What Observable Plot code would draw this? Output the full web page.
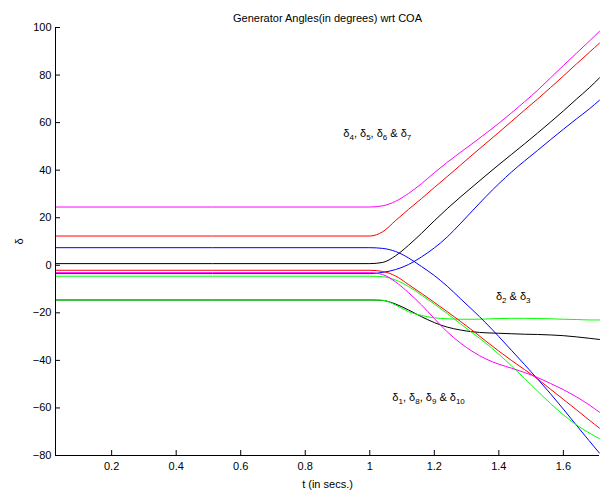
<!DOCTYPE html>
<html>
<head>
<meta charset="utf-8">
<script src="https://cdn.jsdelivr.net/npm/d3@7"></script>
<script src="https://cdn.jsdelivr.net/npm/@observablehq/plot@0.6"></script>
<style>
  html, body { margin: 0; padding: 0; background: #fff; }
  #chart svg { display: block; }
</style>
</head>
<body>
<div id="chart"></div>
<script>
// ---- data ----
const titleText = "Generator Angles(in degrees) wrt COA";
const xLabel = "t (in secs.)";
const yLabel = "δ";
const xDomain = [0.026, 1.712];
const yDomain = [-80, 100];
const xTicks = [0.2, 0.4, 0.6, 0.8, 1, 1.2, 1.4, 1.6];
const yTicks = [-80, -60, -40, -20, 0, 20, 40, 60, 80, 100];

// time samples (s)
const tSec = [0.026, 1.00, 1.04, 1.08, 1.12, 1.16, 1.20, 1.24, 1.28, 1.32, 1.36, 1.40, 1.44, 1.48, 1.52, 1.56, 1.60, 1.64, 1.68, 1.712];

// rising group (delta4..delta7)
const magentaUp = [24.5, 24.5, 25.0, 26.9, 30.2, 34.3, 38.9, 43.3, 47.4, 51.4, 55.5, 59.7, 64.2, 68.8, 73.6, 78.8, 84.0, 89.1, 94.2, 98.4];
const redUp     = [12.3, 12.3, 14.1, 18.8, 23.5, 28.0, 32.7, 37.3, 42.0, 46.7, 51.3, 55.9, 60.6, 65.3, 69.9, 74.7, 79.6, 84.6, 89.5, 93.4];
const blackUp   = [0.7, 0.7, 1.2, 4.0, 8.4, 13.4, 18.7, 23.8, 28.6, 33.2, 37.8, 42.3, 46.7, 51.1, 55.6, 60.2, 64.9, 69.8, 74.6, 78.8];
const blueUp    = [-3.5, -3.5, -3.0, -1.8, 0.3, 3.5, 7.3, 11.9, 17.4, 23.2, 28.9, 34.3, 39.3, 43.9, 48.3, 52.8, 57.2, 61.5, 65.7, 69.4];
// middle group (delta2, delta3)
const greenMid  = [-14.6, -14.6, -14.7, -16.7, -19.5, -21.1, -22.1, -22.5, -22.7, -22.7, -22.6, -22.4, -22.3, -22.3, -22.4, -22.5, -22.7, -22.8, -23.0, -23.0];
const blackMid  = [-14.6, -14.6, -14.8, -16.3, -18.8, -21.6, -24.1, -26.0, -27.2, -28.0, -28.4, -28.6, -28.8, -29.0, -29.1, -29.3, -29.6, -30.1, -30.7, -31.2];
// falling group (delta1, delta8, delta9, delta10)
const blueDown    = [7.4, 7.4, 7.1, 5.8, 3.1, -0.5, -4.3, -8.8, -13.9, -19.0, -24.3, -30.0, -35.9, -41.8, -47.8, -54.0, -60.5, -67.2, -73.8, -79.0];
const redDown     = [-2.1, -2.1, -2.6, -4.5, -8.1, -11.8, -15.6, -19.5, -23.5, -27.6, -31.9, -36.1, -40.1, -43.9, -47.8, -52.1, -56.4, -60.7, -65.1, -68.5];
const magentaDown = [-3.1, -3.1, -3.9, -7.0, -11.5, -16.6, -22.4, -28.0, -32.6, -36.4, -39.4, -41.6, -43.3, -45.1, -47.2, -49.7, -52.3, -55.3, -58.7, -61.8];
const greenDown   = [-4.6, -4.6, -4.8, -6.2, -8.9, -12.5, -16.3, -20.3, -24.5, -28.6, -32.8, -37.4, -42.4, -47.6, -52.9, -58.1, -62.9, -67.1, -70.5, -72.9];

// annotations
const noteText = ["δ4, δ5, δ6 & δ7", "δ2 & δ3", "δ1, δ8, δ9 & δ10"];
const noteT = [0.918, 1.391, 1.070];
const noteV = [55.5, -13.0, -55.7];

// ---- build ----
const seriesList = [
  {v: blueUp, color: "#0000ff"},
  {v: blackMid, color: "#000000"},
  {v: greenMid, color: "#00ff00"},
  {v: blueDown, color: "#0000ff"},
  {v: greenDown, color: "#00ff00"},
  {v: redDown, color: "#ff0000"},
  {v: magentaDown, color: "#ff00ff"},
  {v: blackUp, color: "#000000"},
  {v: redUp, color: "#ff0000"},
  {v: magentaUp, color: "#ff00ff"}
];
const lineMarks = seriesList.map(s =>
  Plot.line(tSec.map((t, i) => ({t, v: s.v[i]})), {
    x: "t", y: "v", stroke: s.color, strokeWidth: 1, curve: "monotone-x"
  })
);
const notes = noteText.map((text, i) => ({text, t: noteT[i], v: noteV[i]}));

const W = 600, H = 490, mL = 55, mR = 1, mT = 27, mB = 35, tickLen = 5;

const chart = Plot.plot({
  width: W,
  height: H,
  marginLeft: mL,
  marginRight: mR,
  marginTop: mT,
  marginBottom: mB,
  style: {fontFamily: "'Liberation Sans', Arial, Helvetica, sans-serif", fontSize: "11px", background: "#fff", color: "#000"},
  x: {domain: xDomain},
  y: {domain: yDomain},
  marks: [
    Plot.axisX({ticks: xTicks, tickSize: 0, tickPadding: 7, tickFormat: d => String(d),
      label: xLabel, labelAnchor: "center", labelOffset: 32, labelArrow: "none"}),
    Plot.axisY({ticks: yTicks, tickSize: 0, tickPadding: 4, label: yLabel, labelAnchor: "center",
      labelOffset: 40, labelArrow: "none"}),
    ...lineMarks,
    // inward tick marks (MATLAB style)
    Plot.ruleX(xTicks, {stroke: "#000", strokeWidth: 1, insetTop: H - mT - mB - tickLen}),
    Plot.ruleY(yTicks, {stroke: "#000", strokeWidth: 1, insetRight: W - mL - mR - tickLen}),
    Plot.ruleX([xDomain[0]], {stroke: "#000", strokeWidth: 1}),
    Plot.ruleY([yDomain[0]], {stroke: "#000", strokeWidth: 1}),
    Plot.text(notes, {x: "t", y: "v", text: "text", textAnchor: "start", fontSize: 11, fill: "#000"}),
    Plot.text([titleText], {frameAnchor: "top", dy: -13, fontSize: 11, fill: "#000"})
  ]
});

// subscripts for the delta annotations
d3.select(chart).selectAll("text").each(function () {
  const s = this.textContent;
  if (!/δ\d/.test(s) || this.querySelector("tspan")) return;
  const sel = d3.select(this);
  sel.text(null);
  const parts = s.split(/(\d+)/);
  let lowered = false;
  parts.forEach((p, i) => {
    if (!p) return;
    const ts = sel.append("tspan").text(p);
    if (i % 2 === 1) { ts.attr("font-size", 8).attr("dy", 3); lowered = true; }
    else if (lowered) { ts.attr("dy", -3); lowered = false; }
  });
});

document.getElementById("chart").appendChild(chart);
</script>
</body>
</html>
